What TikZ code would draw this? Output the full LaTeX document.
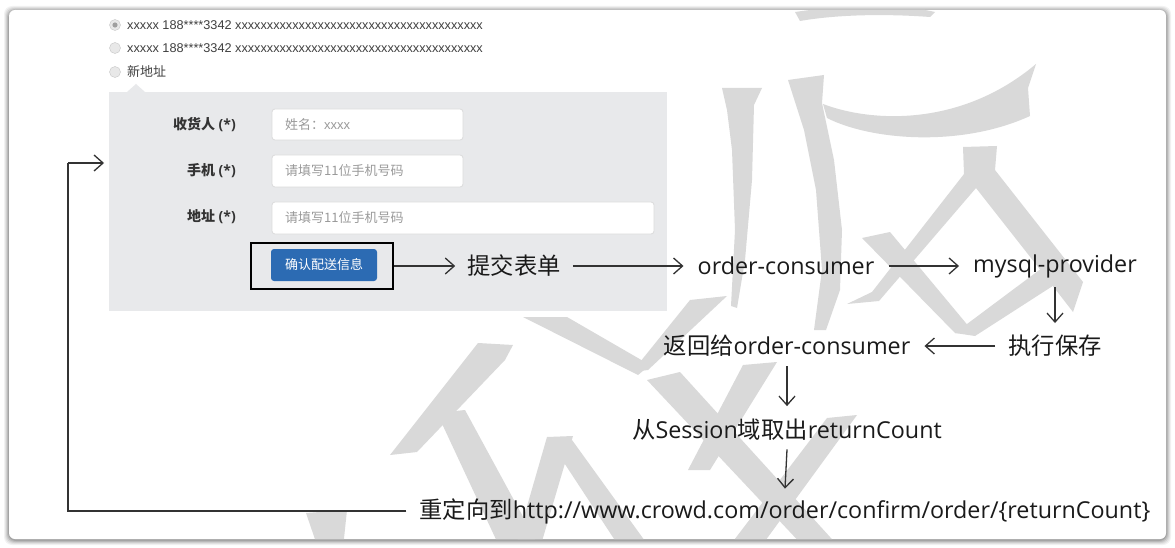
\documentclass[tikz,border=0pt]{standalone}
\usepackage{fontspec}
\setmainfont{Open Sans}
\newfontfamily\cjk{Noto Sans CJK SC}
\newfontfamily\ui{Liberation Sans}
\usetikzlibrary{arrows.meta,calc}
\definecolor{wm}{HTML}{D9D9D9}
\definecolor{panel}{HTML}{E8E9EB}
\definecolor{btnblue}{HTML}{2C6BB3}
\definecolor{ink}{HTML}{1A1A1A}
\definecolor{conn}{HTML}{333333}
\definecolor{ph}{HTML}{9A9A9A}
\tikzset{
  flow/.style={inner sep=0pt, font=\fontsize{23.3}{27}\selectfont, text=ink},
  arr/.style={draw=conn, line width=1.3pt, -{Straight Barb[length=9pt,width=16pt,line width=1.3pt]}},
  backline/.style={draw=conn, line width=1.8pt},
  radio/.style={circle, draw=gray!45, fill=gray!18, minimum size=11pt, inner sep=0pt},
  radiotext/.style={anchor=west, inner sep=0pt, font=\ui\fontsize{12.7}{14}\selectfont, text=black!75},
  lbl/.style={anchor=east, inner sep=0pt, font=\fontsize{14}{16}\selectfont\bfseries, text=black!80},
  field/.style={draw=gray!28, fill=white, rounded corners=3pt, line width=0.8pt},
  phtext/.style={anchor=west, inner sep=0pt, font=\cjk\fontsize{13}{15}\selectfont, text=ph},
  wmark/.style={fill=wm},
}
\begin{document}
\begin{tikzpicture}[x=1pt,y=-1pt]
\useasboundingbox (0,0) rectangle (1175,548);
\fill[white] (0,0) rectangle (1175,548);
% card with soft shadow
\foreach \s/\o in {5/0.05,4/0.06,3/0.08,2/0.10,1/0.12}{
  \fill[black,opacity=\o,rounded corners=8pt] (9-\s,10-\s+1) rectangle (1166+\s,539+\s+1);
}
\fill[white,rounded corners=6pt] (9,10) rectangle (1166,539);

% watermark (clipped to the card)
\begin{scope}
\clip[rounded corners=6pt] (9,10) rectangle (1166,539);
% upper character
\fill[wmark] (722,88) -- (762,88) -- (754,105) -- (752,180) -- (745,260) -- (737,308) -- (731,306) -- (735,230) -- (732,150) -- (727,110) -- cycle;
\fill[wmark] (788,80) -- (824,75) -- (822,103) -- (834,160) -- (842,230) -- (840,290) -- (826,330) -- (814,330) -- (822,270) -- (816,190) -- (804,130) -- cycle;
\fill[wmark] (823,104) .. controls (870,122) and (960,128) .. (1036,64) -- (1028,88) -- (1030,116) .. controls (960,148) and (870,140) .. (827,118) -- cycle;
\fill[wmark] (795,12) .. controls (850,4) and (900,4) .. (935,12) -- (930,17) .. controls (890,14) and (840,14) .. (800,21) -- cycle;
\fill[wmark] (872,292) -- (964,174) -- (963,147) -- (997,146) -- (995,170) -- (1083,282) -- (1073,312) -- (1042,272) -- (976,188) -- (879,301) -- (847,304) -- cycle;
\fill[wmark] (1042,268) -- (1062,280) -- (975,336) -- (955,333) -- cycle;
\fill[wmark] (862,238) -- (890,232) -- (975,334) -- (955,333) -- cycle;
% lower character
\fill[wmark] (478,343) -- (513,345) -- (505,360) -- (417,452) -- (390,455) -- cycle;
\fill[wmark] (437,413) -- (465,410) -- (540,548) -- (500,548) -- cycle;
\fill[wmark] (306,513) -- (347,510) -- (343,548) -- (318,548) -- cycle;
\fill[wmark] (523,317) -- (567,317) -- (650,365) -- (638,375) -- cycle;
\fill[wmark] (690,300) -- (727,296) -- (648,370) -- (632,372) -- cycle;
\fill[wmark] (743,365) -- (777,362) -- (710,470) -- (688,470) -- cycle;
\fill[wmark] (647,380) -- (680,372) -- (840,548) -- (805,548) -- cycle;
\fill[wmark] (827,418) -- (857,415) -- (760,548) -- (728,548) -- cycle;
\fill[wmark] (547,437) -- (573,436) -- (540,548) -- (515,548) -- cycle;
\fill[wmark] (557,452) -- (572,440) -- (650,548) -- (620,548) -- cycle;
\end{scope}

% radio list
\node[radio] (r1) at (115,25) {};
\fill[gray!75] (r1.center) circle (2.6pt);
\node[radiotext] (t1) at (127,25) {xxxxx 188****3342 xxxxxxxxxxxxxxxxxxxxxxxxxxxxxxxxxxxxxxx};
\node[radio] (r2) at (115,48) {};
\node[radiotext] (t2) at (127,48) {xxxxx 188****3342 xxxxxxxxxxxxxxxxxxxxxxxxxxxxxxxxxxxxxxx};
\node[radio] (r3) at (115,72) {};
\node[radiotext,font=\cjk\fontsize{13}{15}\selectfont] (t3) at (127,72) {新地址};

% form panel
\fill[panel] (109,92) rectangle (667,311);
\fill[panel] (127,92) -- (136,84) -- (145,92) -- cycle;

\node[lbl] (l1) at (236,125) {{\cjk 收货人} (*)};
\node[lbl] (l2) at (236,171) {{\cjk 手机} (*)};
\node[lbl] (l3) at (236,217) {{\cjk 地址} (*)};

\draw[field] (272,109) rectangle (463,140);
\node[phtext] (p1) at (285,125) {姓名：\ui xxxx};
\draw[field] (272,155) rectangle (463,187);
\node[phtext] (p2) at (285,171) {请填写11位手机号码};
\draw[field] (272,202) rectangle (654,234);
\node[phtext] (p3) at (285,218) {请填写11位手机号码};

\fill[btnblue,rounded corners=3pt] (271,249) rectangle (377,281);
\node[inner sep=0pt,font=\cjk\fontsize{13}{15}\selectfont,text=white] (btn) at (324,265) {确认配送信息};
\node[draw=black,line width=2.4pt,minimum width=142pt,minimum height=46pt,inner sep=0pt] (frame) at (322,266) {};

% flow nodes
\node[flow] (n1) at (514,266) {\cjk 提交表单};
\node[flow] (n2) at (786,266) {order-consumer};
\node[flow] (n3) at (1055,266) {mysql-provider};
\node[flow] (n4) at (1055,346) {\cjk 执行保存};
\node[flow] (n5) at (787,346) {{\cjk 返回给}order-consumer};
\node[flow] (n6) at (787,430) {{\cjk 从}Session{\cjk 域取出}returnCount};
\node[flow] (n7) at (785,511) {{\cjk 重定向到}http://www.crowd.com/order/confirm/order/\{returnCount\}};

\coordinate (ret) at (104,163);
\coordinate (rcorner) at (68,163);

% connectors
\draw[arr] (frame.east) -- ([xshift=-12pt]n1.west);
\draw[arr] ([xshift=12pt]n1.east) -- ([xshift=-14pt]n2.west);
\draw[arr] ([xshift=14pt]n2.east) -- ([xshift=-14pt]n3.west);
\draw[arr] ([yshift=-9.5pt]n3.south) -- ([yshift=12pt]n4.north);
\draw[arr] ([xshift=-13pt]n4.west) -- ([xshift=14pt]n5.east);
\draw[arr] ([yshift=-9.5pt]n5.south) -- ([yshift=13pt]n6.north);
\draw[arr] ([yshift=-8.5pt]n6.south) -- ([yshift=9.5pt]n7.north);
\draw[backline] ([xshift=-13pt]n7.west) -| (rcorner);
\draw[arr,line width=1.8pt] (rcorner) -- (ret);
\end{tikzpicture}
\end{document}
